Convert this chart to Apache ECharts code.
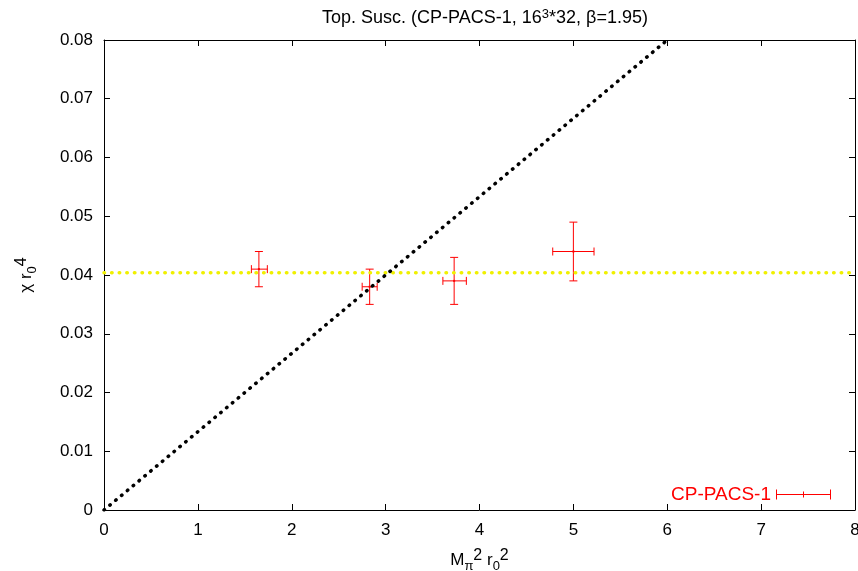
<!DOCTYPE html>
<html><head><meta charset="utf-8">
<script src="https://cdn.jsdelivr.net/npm/echarts@6/dist/echarts.min.js"></script>
<style>html,body{margin:0;padding:0;background:#fff}#c{width:858px;height:571px}</style>
</head><body><div id="c"></div>
<script>
var xTicks = [0,1,2,3,4,5,6,7,8];
var yTicks = [0,0.01,0.02,0.03,0.04,0.05,0.06,0.07,0.08];
var pointX = [1.65, 2.83, 3.73, 5.0];
var pointY = [0.041, 0.038, 0.039, 0.044];
var xLow  = [1.57, 2.75, 3.61, 4.78];
var xHigh = [1.74, 2.91, 3.86, 5.22];
var yLow  = [0.038, 0.035, 0.035, 0.039];
var yHigh = [0.044, 0.041, 0.043, 0.049];
var avgLevel = 0.0404;
var fitLine = [[0,0],[6,0.08]];

var errData = pointX.map(function(x,i){return [x, pointY[i], xLow[i], xHigh[i], yLow[i], yHigh[i]];});
var red = '#ff0000';
var chart = echarts.init(document.getElementById('c'));
var font = 'Liberation Sans, Arial, sans-serif';
var richName = {
  sub:{fontSize:13,verticalAlign:'bottom',padding:[9,0,0,0],fontFamily:font,color:'#000'},
  sup:{fontSize:16,verticalAlign:'top',padding:[0,0,9,0],fontFamily:font,color:'#000'}
};
chart.setOption({
  animation:false,
  title:{text:'Top. Susc. (CP-PACS-1, 16{s|3}*32, β=1.95)', left:480, textAlign:'center', top:3,
    textStyle:{fontFamily:font,fontSize:18,fontWeight:'normal',color:'#000',
      rich:{s:{fontSize:13,verticalAlign:'top',padding:[0,0,7,0],fontFamily:font,color:'#000'}}}},
  grid:{left:104,right:3,top:40,bottom:61,containLabel:false,outerBoundsMode:'none'},
  legend:{right:22,bottom:62,align:'right',itemWidth:55,itemHeight:10,itemGap:14,
    data:[{name:'CP-PACS-1',icon:'path://M0,4.5h55v1h-55z M0,0h1v10h-1z M54,0h1v10h-1z M27,2h1v6h-1z'}],
    textStyle:{color:red,fontSize:19,fontFamily:font}},
  xAxis:[{type:'value',min:0,max:8,interval:1,
    axisLine:{show:true,onZero:false,lineStyle:{color:'#000',width:1}},
    axisTick:{inside:true,length:6,lineStyle:{color:'#000'}},
    axisLabel:{color:'#000',fontSize:17,fontFamily:font,margin:12},
    splitLine:{show:false},
    name:'M{sub|π}{sup|2} r{sub|0}{sup|2}',nameLocation:'middle',nameGap:38,
    nameTextStyle:{color:'#000',fontSize:17,fontFamily:font,rich:richName}},
    {type:'value',min:0,max:8,interval:1,position:'top',
    axisLine:{show:true,onZero:false,lineStyle:{color:'#000'}},
    axisTick:{inside:true,length:6,lineStyle:{color:'#000'}},axisLabel:{show:false},splitLine:{show:false}}],
  yAxis:[{type:'value',min:0,max:0.08,interval:0.01,
    axisLine:{show:true,onZero:false,lineStyle:{color:'#000'}},
    axisTick:{inside:true,length:6,lineStyle:{color:'#000'}},
    axisLabel:{color:'#000',fontSize:17,fontFamily:font,margin:11,formatter:function(v){return v===0?'0':v.toFixed(2);}},
    splitLine:{show:false},
    name:'χ r{sub|0}{sup|4}',nameLocation:'middle',nameGap:65,nameRotate:90,
    nameTextStyle:{color:'#000',fontSize:17,fontFamily:font,rich:richName}},
    {type:'value',min:0,max:0.08,interval:0.01,position:'right',
    axisLine:{show:true,onZero:false,lineStyle:{color:'#000'}},
    axisTick:{inside:true,length:6,lineStyle:{color:'#000'}},axisLabel:{show:false},splitLine:{show:false}}],
  series:[
    {type:'line',name:'avg',data:[[0,avgLevel],[8,avgLevel]],symbol:'none',silent:true,
      lineStyle:{color:'#f0f000',width:3.5,type:[0.5,7.1],cap:'round'}},
    {type:'line',name:'fit',data:fitLine,symbol:'none',silent:true,
      lineStyle:{color:'#000',width:3.5,type:[0.5,7.1],cap:'round'}},
    {type:'custom',name:'CP-PACS-1',data:errData,color:red,
      renderItem:function(params,api){
        var x=api.value(0),y=api.value(1),xl=api.value(2),xh=api.value(3),yl=api.value(4),yh=api.value(5);
        var pL=api.coord([xl,y]),pR=api.coord([xh,y]),pB=api.coord([x,yl]),pT=api.coord([x,yh]),c=api.coord([x,y]);
        var st={stroke:red,lineWidth:1};
        var cap=4;
        return {type:'group',children:[
          {type:'line',shape:{x1:pL[0],y1:pL[1],x2:pR[0],y2:pR[1]},style:st},
          {type:'line',shape:{x1:pL[0],y1:pL[1]-cap,x2:pL[0],y2:pL[1]+cap},style:st},
          {type:'line',shape:{x1:pR[0],y1:pR[1]-cap,x2:pR[0],y2:pR[1]+cap},style:st},
          {type:'line',shape:{x1:pB[0],y1:pB[1],x2:pT[0],y2:pT[1]},style:st},
          {type:'line',shape:{x1:pB[0]-cap,y1:pB[1],x2:pB[0]+cap,y2:pB[1]},style:st},
          {type:'line',shape:{x1:pT[0]-cap,y1:pT[1],x2:pT[0]+cap,y2:pT[1]},style:st},
          {type:'rect',shape:{x:c[0]-1,y:c[1]-1,width:2,height:2},style:{fill:red}}
        ]};
      }}
  ]
});
</script></body></html>
